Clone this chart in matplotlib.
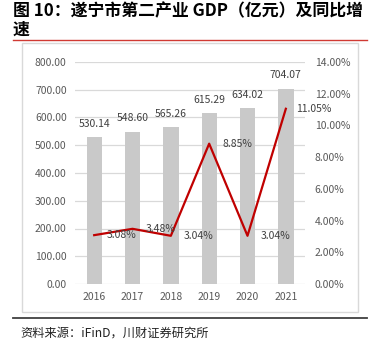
import numpy as np
import matplotlib
matplotlib.use("Agg")
import matplotlib.pyplot as plt
from matplotlib.patches import Rectangle
from matplotlib.lines import Line2D

plt.rcParams['font.family'] = ['Noto Sans CJK SC', 'DejaVu Sans']

# GDP of the secondary industry (100 million yuan) and YoY growth (%)
years = ['2016', '2017', '2018', '2019', '2020', '2021']
gdp = [530.14, 548.60, 565.26, 615.29, 634.02, 704.07]
growth = [3.08, 3.48, 3.04, 8.85, 3.04, 11.05]
left_ticks = [0, 100, 200, 300, 400, 500, 600, 700, 800]
right_ticks = [0, 2, 4, 6, 8, 10, 12, 14]

W, H = 377, 344
fig = plt.figure(figsize=(W / 100, H / 100), dpi=100)

def px(x, y):
    return x / W, 1 - y / H

# title, separators, source
fig.text(*px(13, 11), '图 10：遂宁市第二产业 GDP（亿元）及同比增', fontsize=12.2,
         fontweight='bold', va='center', ha='left', color='black')
fig.text(*px(13, 30), '速', fontsize=12.2, fontweight='bold', va='center',
         ha='left', color='black')
fig.add_artist(Line2D([13 / W, 367 / W], [1 - 40 / H] * 2, color='#d03a33', lw=1))
fig.add_artist(Line2D([13 / W, 367 / W], [1 - 318 / H] * 2, color='#404040', lw=1.3))
fig.add_artist(Rectangle(px(22, 312), 336 / W, 269 / H, fill=False,
                         edgecolor='#d9d9d9', lw=1))
fig.text(*px(20, 333), '资料来源：iFinD，川财证券研究所', fontsize=8.8,
         va='center', ha='left', color='#222222')

l, b = px(75, 284)
ax = fig.add_axes([l, b, (305 - 75) / W, (284 - 62) / H])
x = np.arange(len(years))

ax.bar(x, gdp, width=0.4, color='#c9c9c9', zorder=2)
for xi, v in zip(x, gdp):
    ax.annotate(f'{v:.2f}', (xi, v), xytext=(0, 6), textcoords='offset points',
                ha='center', va='bottom', fontsize=7.5, color='#404040')

ax.set_ylim(0, 800)
ax.set_yticks(left_ticks)
ax.set_yticklabels([f'{t:.2f}' for t in left_ticks])
ax.set_xlim(-0.5, len(years) - 0.5)
ax.set_xticks(x)
ax.set_xticklabels(years)
ax.grid(axis='y', color='#d9d9d9', lw=0.9, zorder=0)
ax.set_axisbelow(True)
for s in ax.spines.values():
    s.set_visible(False)
ax.tick_params(length=0, labelsize=7.5, colors='#595959', pad=6)

ax2 = ax.twinx()
ax2.plot(x, growth, color='#c00000', lw=1.6, zorder=3)
for xi, v in zip(x, growth):
    ax2.annotate(f'{v:.2f}%', (xi, v), xytext=(20, 0), textcoords='offset points',
                 ha='center', va='center', fontsize=7.5, color='#404040')
ax2.set_ylim(0, 14)
ax2.set_yticks(right_ticks)
ax2.set_yticklabels([f'{t:.2f}%' for t in right_ticks])
for s in ax2.spines.values():
    s.set_visible(False)
ax2.tick_params(length=0, labelsize=7.5, colors='#595959', pad=7)

fig.savefig('out.png', dpi=100)
